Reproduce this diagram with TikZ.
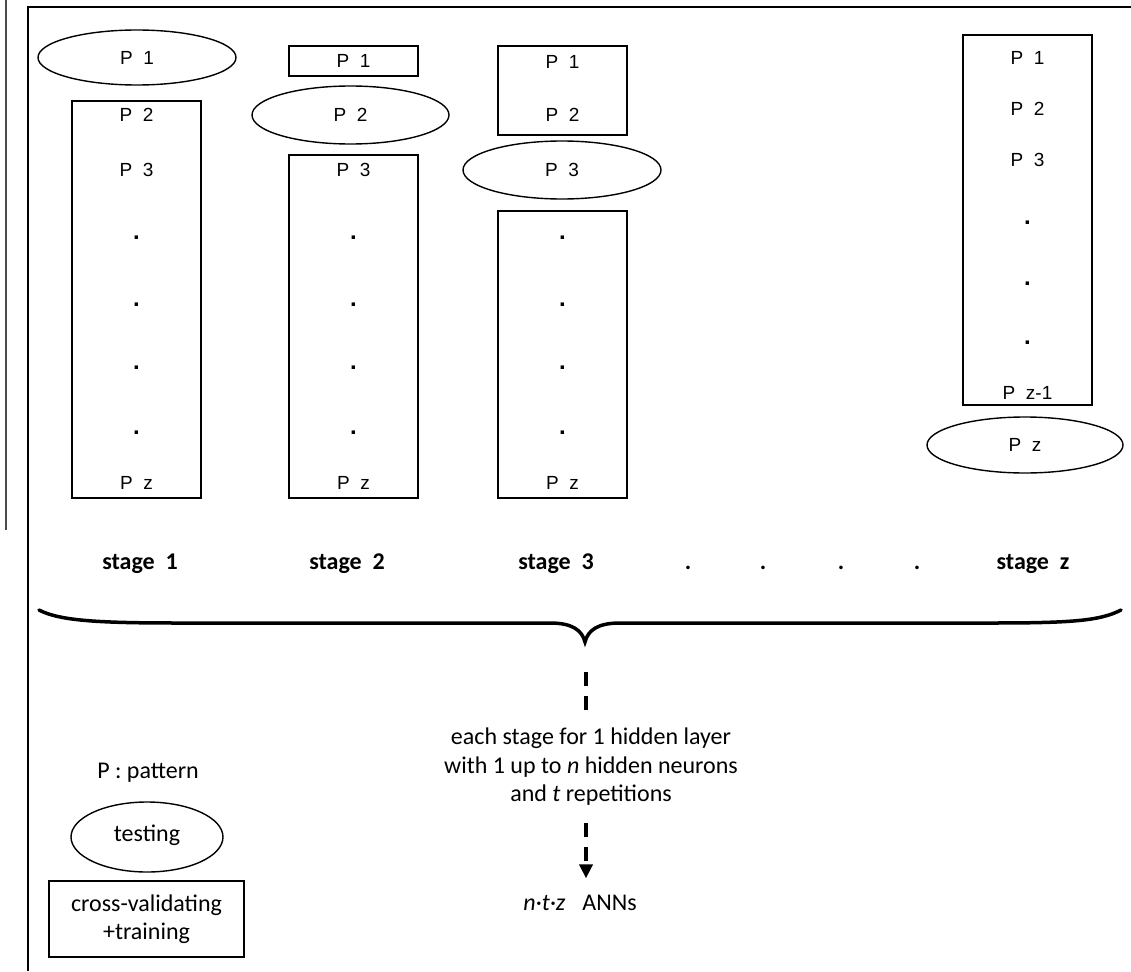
\documentclass[tikz,border=0pt]{standalone}
\usepackage{fontspec}
\setmainfont{Carlito}
\newfontfamily\pfont{Liberation Sans}
\usetikzlibrary{shapes.geometric,arrows.meta}
\begin{document}
\begin{tikzpicture}[x=1pt,y=-1pt,
  pbox/.style={draw,line width=1.6pt,inner sep=0pt},
  pell/.style={draw,ellipse,line width=1.4pt,inner sep=0pt},
  ptxt/.style={font=\pfont\fontsize{19}{21}\selectfont,inner sep=0pt},
  pdot/.style={font=\pfont\bfseries\fontsize{24}{26}\selectfont,inner sep=0pt},
  stagelbl/.style={font=\bfseries\fontsize{24}{28}\selectfont,inner sep=0pt,anchor=base},
  lowtxt/.style={font=\fontsize{24}{28.5}\selectfont,inner sep=0pt},
  dashconn/.style={line width=4pt,dash pattern=on 14pt off 10pt},
]
\useasboundingbox (0,0) rectangle (1131,971);
% frame
\draw[line width=1.2pt,black!70] (6,0) -- (6,530);
\draw[line width=2.4pt] (28,971) -- (28,7) -- (1131,7);

% ---- stage 1
\node[pell,minimum width=198pt,minimum height=55pt] (e1) at (137,57.5) {};
\node[ptxt] (s1p1) at (e1.center) {P~~1};
\node[pbox,minimum width=129pt,minimum height=397pt] (b1) at (136.5,299.5) {};
\node[ptxt] (s1p2) at (136.5,115) {P~~2};
\node[ptxt] (s1p3) at (136.5,170) {P~~3};
\node[pdot] (s1d1) at (136.5,238) {.};
\node[pdot] (s1d2) at (136.5,305) {.};
\node[pdot] (s1d3) at (136.5,368) {.};
\node[pdot] (s1d4) at (136.5,433) {.};
\node[ptxt] (s1pz) at (136.5,483) {P~~z};

% ---- stage 2
\node[pbox,minimum width=129pt,minimum height=30pt] (b2a) at (353.5,61) {};
\node[ptxt] (s2p1) at (b2a.center) {P~~1};
\node[pell,minimum width=197pt,minimum height=58pt] (e2) at (350.5,115) {};
\node[ptxt] (s2p2) at (e2.center) {P~~2};
\node[pbox,minimum width=129pt,minimum height=343pt] (b2b) at (353.5,326.5) {};
\node[ptxt] (s2p3) at (353.5,170) {P~~3};
\node[pdot] (s2d1) at (353.5,238) {.};
\node[pdot] (s2d2) at (353.5,305) {.};
\node[pdot] (s2d3) at (353.5,368) {.};
\node[pdot] (s2d4) at (353.5,433) {.};
\node[ptxt] (s2pz) at (353.5,483) {P~~z};

% ---- stage 3
\node[pbox,minimum width=129pt,minimum height=89pt] (b3a) at (562.5,90.5) {};
\node[ptxt] (s3p1) at (562.5,62) {P~~1};
\node[ptxt] (s3p2) at (562.5,115) {P~~2};
\node[pell,minimum width=198pt,minimum height=58pt] (e3) at (562,170) {};
\node[ptxt] (s3p3) at (e3.center) {P~~3};
\node[pbox,minimum width=129pt,minimum height=287pt] (b3b) at (562.5,354.5) {};
\node[pdot] (s3d1) at (562.5,238) {.};
\node[pdot] (s3d2) at (562.5,305) {.};
\node[pdot] (s3d3) at (562.5,368) {.};
\node[pdot] (s3d4) at (562.5,433) {.};
\node[ptxt] (s3pz) at (562.5,483) {P~~z};

% ---- stage z
\node[pbox,minimum width=129pt,minimum height=370pt] (bz) at (1027.5,220) {};
\node[ptxt] (szp1) at (1027.5,58) {P~~1};
\node[ptxt] (szp2) at (1027.5,109) {P~~2};
\node[ptxt] (szp3) at (1027.5,160) {P~~3};
\node[pdot] (szd1) at (1027.5,223) {.};
\node[pdot] (szd2) at (1027.5,284) {.};
\node[pdot] (szd3) at (1027.5,343) {.};
\node[ptxt] (szpz1) at (1027.5,393) {P~~z-1};
\node[pell,minimum width=196pt,minimum height=56pt] (ez) at (1025,445) {};
\node[ptxt] (szpz) at (ez.center) {P~~z};

% ---- stage labels
\node[stagelbl] (l1) at (140,569) {stage\ \ 1};
\node[stagelbl] (l2) at (347,569) {stage\ \ 2};
\node[stagelbl] (l3) at (556,569) {stage\ \ 3};
\node[stagelbl] (ld1) at (688,569) {.};
\node[stagelbl] (ld2) at (763,569) {.};
\node[stagelbl] (ld3) at (841,569) {.};
\node[stagelbl] (ld4) at (917,569) {.};
\node[stagelbl] (lz) at (1033,569) {stage\ \ z};

% ---- brace
\coordinate (tip) at (585,642);
\draw[line width=3.5pt,line cap=round]
  (39,610) .. controls (60,621) and (100,623) .. (180,623) -- (550,623)
  .. controls (572,623) and (582,630) .. (tip)
  .. controls (588,630) and (598,623) .. (620,623) -- (990,623)
  .. controls (1070,623) and (1100,621) .. (1121,610);

% ---- description
\node[lowtxt,align=center,inner sep=0pt] (desc) at (591,767)
  {each stage for 1 hidden layer\\with 1 up to \textit{n} hidden neurons\\and \textit{t} repetitions};
\node[lowtxt,anchor=base] (anns) at (580,910) {\textit{n·t·z}\hspace{17pt}ANNs};
\path (tip) ++(1,30) coordinate (a1);
\path (tip) ++(1,181) coordinate (a2);
\draw[dashconn] (a1) -- ([yshift=14pt]a1 |- desc.north);
\draw[dashconn,-{Triangle[length=14pt,width=13pt]}] (a2) -- ([yshift=16pt]a2 |- anns.north);

% ---- legend
\node[lowtxt,anchor=base] (leg) at (148,778) {P : pattern};
\node[pell,minimum width=152pt,minimum height=70pt] (test) at (147,837) {};
\node[lowtxt,anchor=base] (testt) at (147,841) {testing};
\node[pbox,minimum width=195pt,minimum height=76pt] (cv) at (146.5,919) {};
\node[lowtxt,align=center] (cvt) at (cv.center) {cross-validating\\+training};
\end{tikzpicture}
\end{document}
